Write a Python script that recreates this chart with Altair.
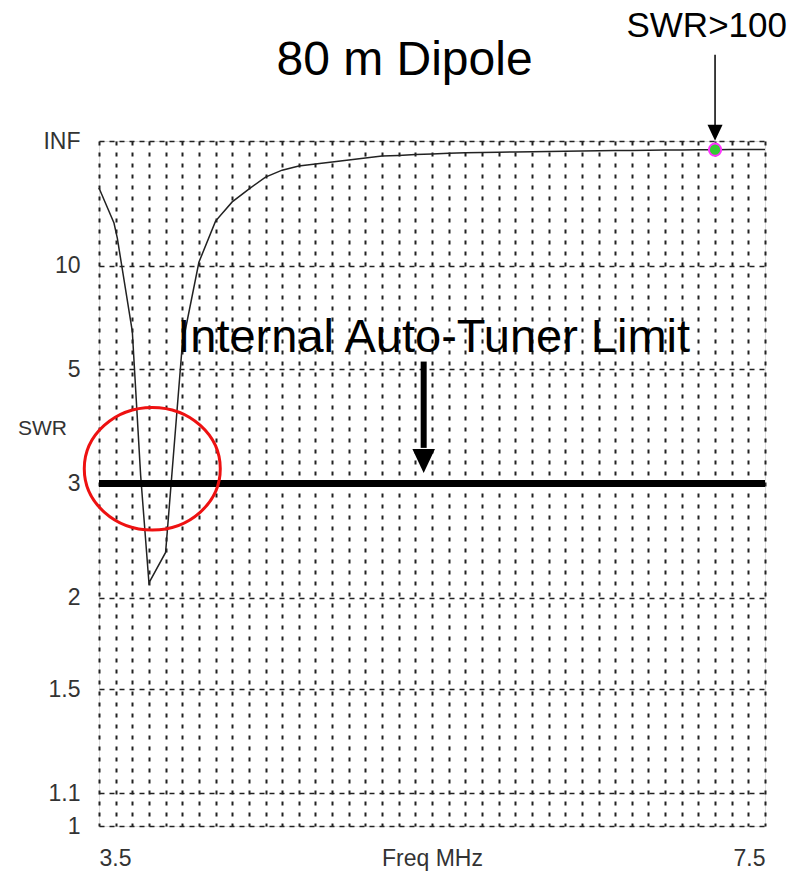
import altair as alt
import pandas as pd

# ---- data ----
FREQ = [3.50, 3.59, 3.61, 3.70, 3.75, 3.80, 3.90, 4.00, 4.10, 4.20, 4.30, 4.40,
        4.50, 4.60, 4.70, 4.80, 4.90, 5.00, 5.10, 5.20, 5.30, 5.40,
        5.50, 5.60, 5.70, 5.80, 5.90, 6.00, 6.10, 6.20, 6.30, 6.40, 6.50,
        6.60, 6.70, 6.80, 6.90, 7.00, 7.10, 7.20, 7.30, 7.40, 7.50]
SWR = [28.1, 15.7, 13.1, 6.2, 3.1, 2.1, 2.33, 5.7, 10.3, 16.1, 21.5, 27.5,
       37, 46, 54, 58.5, 64, 71, 80, 90, 94, 100,
       105, 110, 115, 118, 121, 124, 127, 130, 133, 136, 139,
       142, 145, 148, 150, 152, 154, 156, 158, 160, 162]

SWR_TICKS = [1, 1.1, 1.5, 2, 3, 5, 10]   # plus INF at the top
X_MIN, X_MAX = 3.5, 7.5
TUNER_LIMIT = 3.0
MARK_F, MARK_SWR = 7.2, 156.0            # SWR>100 marker
CIRCLE_F, CIRCLE_SWR = 3.82, 3.18        # red ring centre

TITLE = "80 m Dipole"
NOTE_TUNER = "Internal Auto-Tuner Limit"
NOTE_HIGH = "SWR>100"


def rho(s):
    return (s - 1.0) / (s + 1.0)


curve = pd.DataFrame({"f": FREQ, "swr": SWR})
marker = pd.DataFrame({"f": [MARK_F], "swr": [MARK_SWR]})
ring = pd.DataFrame({"f": [CIRCLE_F], "swr": [CIRCLE_SWR]})
limit = pd.DataFrame({"f": [X_MIN], "f2": [X_MAX], "swr": [TUNER_LIMIT]})

# annotation anchors (x in MHz, y as reflection coefficient, may lie above the top)
notes = pd.DataFrame({"f": [5.51, 7.15, 5.335], "rho": [0.692, 1.152, 1.0964],
                      "txt": [NOTE_TUNER, NOTE_HIGH, TITLE], "size": [47, 35, 48]})
shafts = pd.DataFrame({"f": [5.45, 7.2], "rho": [0.678, 1.126],
                       "rho2": [0.552, 1.022], "w": [6, 1.5]})
heads = pd.DataFrame({"f": [5.45, 7.2], "rho": [0.533, 1.012], "sz": [576, 256]})

x_grid = [round(X_MIN + 0.1 * i, 1) for i in range(41)]
y_ticks = [rho(s) for s in SWR_TICKS] + [1.0]

FONT = "Liberation Sans"

xs = alt.Scale(domain=[X_MIN, X_MAX], nice=False, zero=False)
ys = alt.Scale(domain=[0, 1], nice=False, zero=False)

x_axis = alt.Axis(
    values=x_grid, ticks=False, domain=False, grid=True,
    gridColor="#222", gridWidth=2, gridDash=[4, 7],
    labelExpr="abs(datum.value-3.5)<0.001 || abs(datum.value-7.5)<0.001 ? format(datum.value,'.1f') : ''",
    labelFlush=True, labelOverlap=False, labelPadding=21,
    labelFont=FONT, labelFontSize=23, labelColor="#333",
    title="Freq MHz", titleFont=FONT, titleFontSize=23, titleFontWeight="normal",
    titleColor="#333", titleY=21, titleBaseline="top",
)
y_axis = alt.Axis(
    values=y_ticks, ticks=False, domain=False, grid=True,
    gridColor="#222", gridWidth=1.3, gridDash=[5, 5],
    labelExpr="datum.value >= 0.999 ? 'INF' : format((1+datum.value)/(1-datum.value), '~g')",
    labelOverlap=False, labelBound=False, labelPadding=19,
    labelFont=FONT, labelFontSize=23, labelColor="#333",
    title="SWR", titleAngle=0, titleX=-57, titleY=287, titleAlign="center",
    titleBaseline="middle", titleFont=FONT, titleFontSize=21,
    titleFontWeight="normal", titleColor="#333",
)

X = alt.X("f:Q", scale=xs, axis=x_axis)
Y = alt.Y("rho:Q", scale=ys, axis=y_axis)
rho_expr = "(datum.swr-1)/(datum.swr+1)"

line = alt.Chart(curve).transform_calculate(rho=rho_expr).mark_line(
    color="#222", strokeWidth=1.5).encode(x=X, y=Y)

limit_rule = alt.Chart(limit).transform_calculate(rho=rho_expr).mark_rule(
    color="black", strokeWidth=7).encode(x=X, x2="f2:Q", y=Y)

ell = ("M-1,0 C-1,-0.497 -0.552,-0.9 0,-0.9 C0.552,-0.9 1,-0.497 1,0 "
       "C1,0.497 0.552,0.9 0,0.9 C-0.552,0.9 -1,0.497 -1,0 Z")
ring_mark = alt.Chart(ring).transform_calculate(rho=rho_expr).mark_point(
    shape=ell, size=18496, filled=False, stroke="#ee1111", strokeWidth=3,
    opacity=1).encode(x=X, y=Y)

mark_pt = alt.Chart(marker).transform_calculate(rho=rho_expr).mark_point(
    shape="circle", size=150, filled=True, fill="#33cc33", stroke="#ff33ff",
    strokeWidth=2, opacity=1).encode(x=X, y=Y)

shaft_marks = alt.Chart(shafts).mark_rule(color="black").encode(
    x=X, y=Y, y2="rho2:Q", strokeWidth=alt.StrokeWidth("w:Q", scale=None))

head_marks = alt.Chart(heads).mark_point(
    shape="M-0.94,-1L0.94,-1L0,1Z", filled=True, fill="black", stroke=None,
    opacity=1).encode(x=X, y=Y, size=alt.Size("sz:Q", scale=None))

note_marks = alt.Chart(notes).mark_text(
    font=FONT, color="black", align="center", baseline="alphabetic").encode(
    x=X, y=Y, text="txt:N", size=alt.Size("size:Q", scale=None))

chart = alt.layer(
    line, limit_rule, ring_mark, mark_pt, shaft_marks, head_marks, note_marks
).properties(
    width=666, height=685,
    autosize=alt.AutoSizeParams(type="none"),
    padding={"left": 99, "top": 141, "right": 33, "bottom": 46},
).configure_view(
    stroke="#333", strokeWidth=2
).configure(background="white")

chart.save("out.html", embed_options={"renderer": "svg", "actions": False})
